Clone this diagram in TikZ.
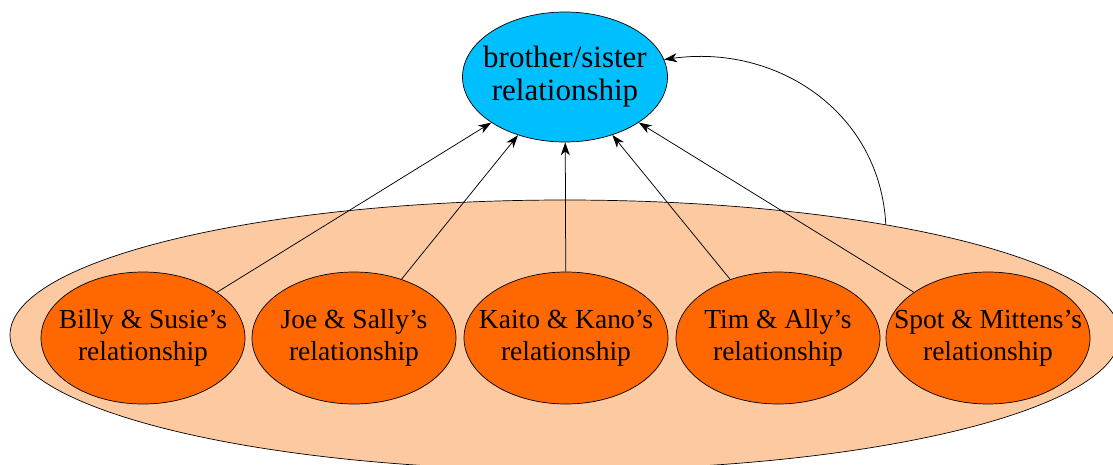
\documentclass[tikz,border=0pt]{standalone}
\usepackage{fontspec}
\setmainfont{Liberation Serif}
\usetikzlibrary{shapes.geometric,arrows.meta}
\definecolor{skyfill}{RGB}{0,191,255}
\definecolor{pairfill}{RGB}{255,104,0}
\definecolor{groupfill}{RGB}{252,201,161}
% two centred lines that do not widen the ellipse around them
\newcommand{\twolines}[2]{\makebox[0pt]{\begin{tabular}{@{}c@{}}#1\\#2\end{tabular}}}
\begin{document}
\begin{tikzpicture}[x=1pt,y=-1pt,
  every node/.style={ellipse,draw=black,line width=0.7pt,inner sep=0pt},
  topbox/.style={fill=skyfill,minimum width=205pt,minimum height=130pt,
    font=\fontsize{31}{33}\selectfont},
  pairbox/.style={fill=pairfill,minimum width=204pt,minimum height=132pt,
    font=\fontsize{27.5}{32}\selectfont},
  groupbox/.style={fill=groupfill,minimum width=1110pt,minimum height=270pt},
  link/.style={line width=0.75pt,-{Stealth[length=13pt,width=9pt,inset=4pt]}}]
\useasboundingbox (0,0) rectangle (1113,464);

\node[groupbox] (group) at (565,335) {};

\node[topbox] (sib) at (565,77) {\twolines{brother/sister}{relationship}};

\node[pairbox] (billy) at (143,338) {\twolines{Billy \& Susie’s}{relationship}};
\node[pairbox] (joe)   at (354,338) {\twolines{Joe \& Sally’s}{relationship}};
\node[pairbox] (kaito) at (566,338) {\twolines{Kaito \& Kano’s}{relationship}};
\node[pairbox] (tim)   at (778,338) {\twolines{Tim \& Ally’s}{relationship}};
\node[pairbox] (spot)  at (988,338) {\twolines{Spot \& Mittens’s}{relationship}};

\draw[link] (billy) -- (sib);
\draw[link] (joe) -- (sib);
\draw[link] (kaito) -- (sib);
\draw[link] (tim) -- (sib);
\draw[link] (spot) -- (sib);

\draw[link] (group.19.5) to[out=93,in=8,looseness=1.05] (sib.10);
\end{tikzpicture}
\end{document}
